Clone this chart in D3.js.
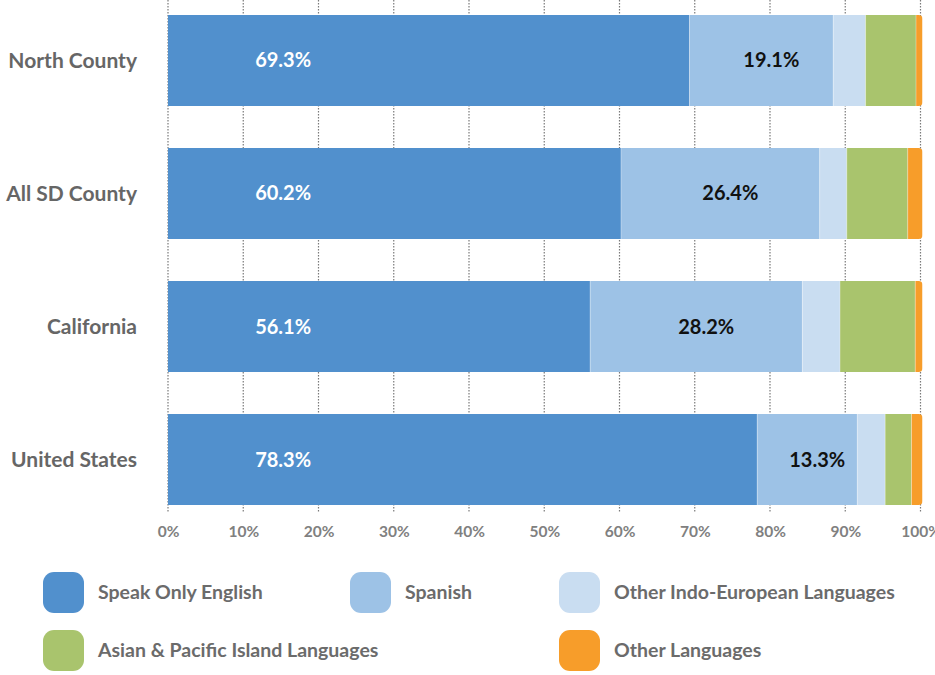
<!DOCTYPE html>
<html><head><meta charset="utf-8">
<script src="https://cdn.jsdelivr.net/npm/d3@7"></script>
<style>body{margin:0;background:#fff;}svg{display:block;}</style>
</head><body>
<script>
const categories = ["North County", "All SD County", "California", "United States"];
const seriesNames = ["Speak Only English", "Spanish", "Other Indo-European Languages", "Asian & Pacific Island Languages", "Other Languages"];
const english = [69.3, 60.2, 56.1, 78.3];
const spanish = [19.1, 26.4, 28.2, 13.3];
const otherIndoEuropean = [4.3, 3.6, 5.0, 3.7];
const asianPacific = [6.7, 8.1, 10.0, 3.5];
const otherLanguages = [0.6, 1.7, 0.7, 1.2];
const tickValues = [0, 10, 20, 30, 40, 50, 60, 70, 80, 90, 100];
const colors = ["#5190cd", "#9dc2e6", "#c9ddf1", "#a9c46d", "#f79d2a"];

const W = 935, H = 675;
const svg = d3.select("body").append("svg").attr("width", W).attr("height", H);
const font = "Lato, 'Open Sans', sans-serif";

const x = d3.scaleLinear().domain([0, 100]).range([168, 920.5]);
const y = d3.scaleBand().domain(categories).range([-6, 526]).paddingInner(0.315).paddingOuter(0.157);

const table = categories.map((c, i) => ({
  cat: c, v: [english[i], spanish[i], otherIndoEuropean[i], asianPacific[i], otherLanguages[i]]
}));

// gridlines
const grid = svg.append("g");
grid.selectAll("line").data(tickValues).join("line")
  .attr("x1", d => x(d)).attr("x2", d => x(d))
  .attr("y1", 0).attr("y2", 512)
  .attr("stroke", "#7a7a7a").attr("stroke-width", 1.2)
  .attr("stroke-dasharray", "1.5,1.5");

// clip rounded right end
const defs = svg.append("defs");
table.forEach((row, i) => {
  const total = d3.sum(row.v);
  const cp = defs.append("clipPath").attr("id", "clip" + i);
  cp.append("rect").attr("x", x(0) - 5).attr("y", y(row.cat))
    .attr("width", x(total) - x(0) + 7).attr("height", y.bandwidth()).attr("rx", 4);
});

const bars = svg.append("g");
table.forEach((row, i) => {
  let acc = 0;
  const segs = row.v.map((v, k) => { const s = {k, x0: acc, x1: acc + v, v}; acc += v; return s; });
  const g = bars.append("g").attr("clip-path", `url(#clip${i})`);
  g.selectAll("rect").data(segs).join("rect")
    .attr("x", d => x(d.x0)).attr("y", y(row.cat))
    .attr("width", d => Math.max(0, x(d.x1) - x(d.x0) + (d.k === 4 ? 2 : 0)))
    .attr("height", y.bandwidth())
    .attr("fill", d => colors[d.k]);
  g.selectAll("line").data(segs.slice(1)).join("line")
    .attr("x1", d => x(d.x0)).attr("x2", d => x(d.x0))
    .attr("y1", y(row.cat)).attr("y2", y(row.cat) + y.bandwidth())
    .attr("stroke", "#ffffff").attr("stroke-opacity", 0.35).attr("stroke-width", 1);
  const cy = y(row.cat) + y.bandwidth() / 2;
  bars.append("text").attr("x", x(15.3)).attr("y", cy).attr("dy", "0.35em")
    .attr("text-anchor", "middle").attr("font-family", font).attr("font-weight", 700)
    .attr("font-size", 20).attr("fill", "#ffffff").text(english[i].toFixed(1) + "%");
  const sMid = (english[i] + spanish[i] / 2);
  bars.append("text").attr("x", x(sMid) + 10).attr("y", cy).attr("dy", "0.35em")
    .attr("text-anchor", "middle").attr("font-family", font).attr("font-weight", 700)
    .attr("font-size", 20).attr("fill", "#111111").text(spanish[i].toFixed(1) + "%");
});

// category labels
svg.append("g").selectAll("text").data(categories).join("text")
  .attr("x", 137).attr("y", d => y(d) + y.bandwidth() / 2).attr("dy", "0.35em")
  .attr("text-anchor", "end").attr("font-family", font).attr("font-weight", 700)
  .attr("font-size", 21).attr("fill", "#666666").text(d => d);

// x axis labels
const axis = d3.axisBottom(x).tickValues(tickValues).tickFormat(d => d + "%").tickSize(0).tickPadding(0);
const ax = svg.append("g").attr("transform", "translate(0,532)").call(axis);
ax.select(".domain").remove();
ax.selectAll("text").attr("font-family", font).attr("font-weight", 700)
  .attr("font-size", 15.5).attr("fill", "#808080").attr("dy", "0.35em");

// legend
const legendPos = [[43, 592], [350, 592], [559, 592], [43, 650], [559, 650]];
const lg = svg.append("g");
seriesNames.forEach((n, k) => {
  const [lx, ly] = legendPos[k];
  lg.append("rect").attr("x", lx).attr("y", ly - 20).attr("width", 41).attr("height", 41)
    .attr("rx", 11).attr("fill", colors[k]);
  lg.append("text").attr("x", lx + 55).attr("y", ly).attr("dy", "0.35em")
    .attr("font-family", font).attr("font-weight", 700).attr("font-size", 19.5)
    .attr("fill", "#6b6b6b").text(n);
});
</script>
</body></html>
